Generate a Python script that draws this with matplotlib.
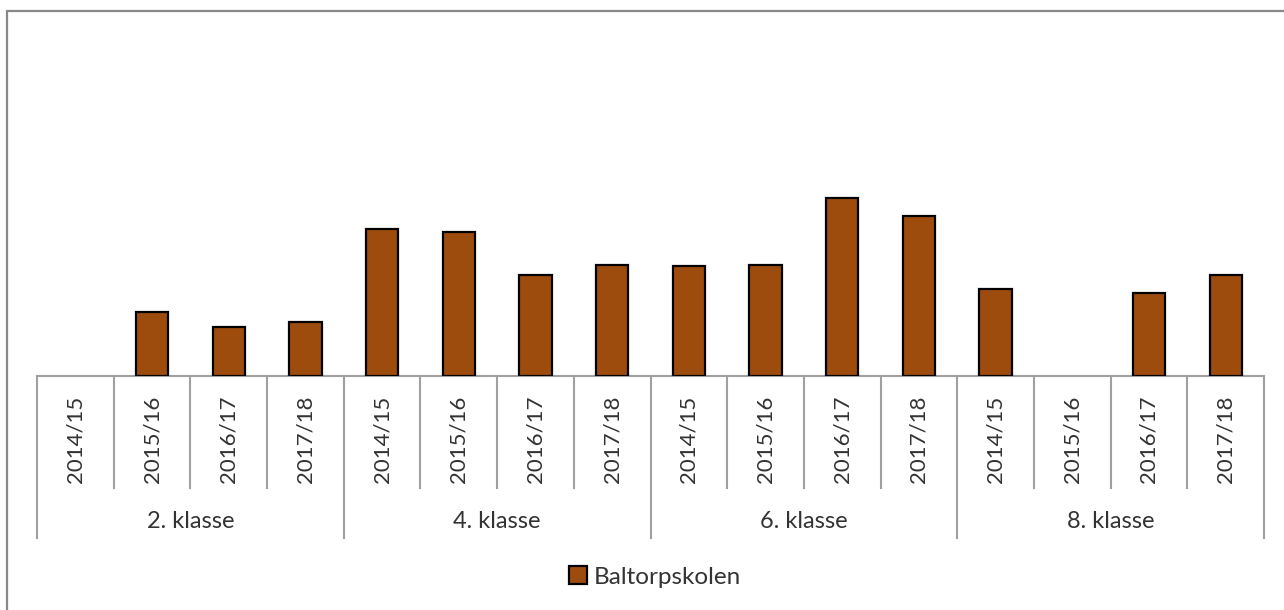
import matplotlib.pyplot as plt
from matplotlib.patches import Rectangle
import matplotlib.transforms as mtransforms

# Data (no value axis in the source, heights; None = no bar)
groups = ["2. klasse", "4. klasse", "6. klasse", "8. klasse"]
years = ["2014/15", "2015/16", "2016/17", "2017/18"]
klasse2 = [None, 64, 49, 54]
klasse4 = [147, 144, 101, 111]
klasse6 = [110, 111, 178, 160]
klasse8 = [87, None, 83, 101]
series_name = "Baltorpskolen"

values = [float("nan") if v is None else v for v in klasse2 + klasse4 + klasse6 + klasse8]
labels = years * len(groups)

W, H = 1284, 610
plt.rcParams['font.family'] = ['Lato', 'DejaVu Sans']
fig = plt.figure(figsize=(W / 100, H / 100), dpi=100)

# outer chart frame (cropped on right and bottom)
fig.patches.append(Rectangle((7 / W, -0.2), 2, 1.2 - 11 / H, transform=fig.transFigure,
                             fill=False, edgecolor="#888888", linewidth=1.6))

ax = fig.add_axes([37 / W, 1 - 376 / H, (1264 - 37) / W, (376 - 20) / H])
x = [i + 0.5 for i in range(len(values))]
bars = ax.bar(x, values, width=0.42, color="#9E4C0E", edgecolor="black", linewidth=1.6,
              label=series_name, zorder=3)
ax.set_xlim(0, len(values))
ax.set_ylim(0, 356)
for s in ["top", "left", "right"]:
    ax.spines[s].set_visible(False)
ax.spines["bottom"].set_color("#A0A0A0")
ax.spines["bottom"].set_linewidth(1.5)
ax.set_xticks([])
ax.set_yticks([])

tr = mtransforms.blended_transform_factory(ax.transData, fig.transFigure)
txtcol = "#333333"
# tick separators and year labels
for i in range(len(values) + 1):
    bottom = 538 if i % 4 == 0 else 488
    ax.plot([i, i], [1 - 376 / H, 1 - bottom / H], color="#A0A0A0", lw=1.5,
            transform=tr, clip_on=False)
for i, lab in enumerate(labels):
    ax.text(i + 0.5, 1 - 439 / H, lab, rotation=90, ha="center", va="center",
            fontsize=16, color=txtcol, transform=tr)
for g, name in enumerate(groups):
    ax.text(g * 4 + 2, 1 - 522 / H, name, ha="center", va="center",
            fontsize=17, color=txtcol, transform=tr)

fig.legend(handles=[bars], labels=[series_name], loc="center",
           bbox_to_anchor=(655 / W, 1 - 577 / H), frameon=False, fontsize=17.5,
           handlelength=0.75, handleheight=0.75, handletextpad=0.3,
           labelcolor=txtcol)

fig.savefig("out.png", dpi=100)
